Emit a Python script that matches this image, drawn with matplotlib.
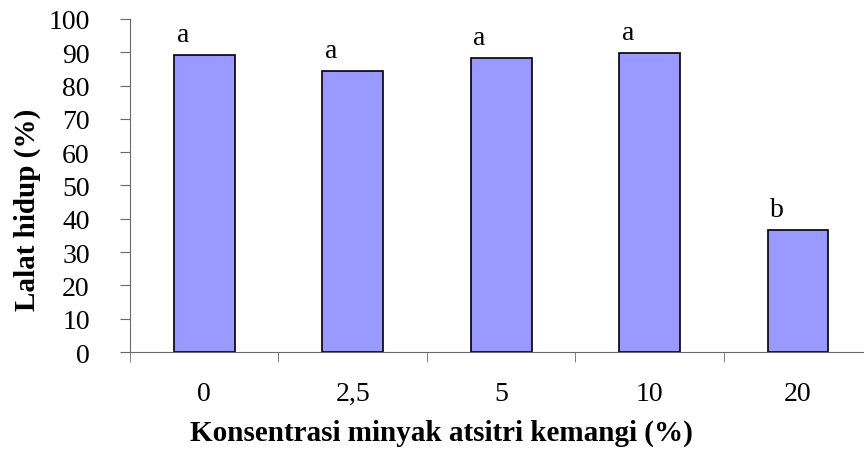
import matplotlib.pyplot as plt
import numpy as np

plt.rcParams['font.family'] = ['Liberation Serif', 'DejaVu Serif']

konsentrasi = ['0', '2,5', '5', '10', '20']
lalat_hidup = [89.3, 84.3, 88.2, 89.7, 36.6]
huruf = ['a', 'a', 'a', 'a', 'b']

fig = plt.figure(figsize=(8.64, 4.52), dpi=100)
ax = fig.add_axes([0.1505, 0.219, 0.859, 0.737])

x = np.arange(len(konsentrasi))
ax.bar(x, lalat_hidup, width=0.41, color='#9999ff', edgecolor='black', linewidth=1.2)

for xi, v, h in zip(x, lalat_hidup, huruf):
    ax.text(xi - 0.145, v + 4.2, h, fontsize=20, ha='center', va='baseline')

ax.set_xlim(-0.5, len(konsentrasi) - 0.5)
ax.set_ylim(0, 100)
ax.set_yticks(range(0, 101, 10))
ax.set_xticks(x)
ax.set_xticklabels(konsentrasi)
ax.set_xticks(np.arange(-0.5, len(konsentrasi), 1), minor=True)

ax.tick_params(axis='x', which='major', length=0, pad=21, labelsize=20)
ax.tick_params(axis='x', which='minor', length=7, direction='out', color='dimgray')
ax.tick_params(axis='y', length=7, direction='out', color='dimgray', labelsize=20, pad=22)

for s in ['top', 'right']:
    ax.spines[s].set_visible(False)
for s in ['left', 'bottom']:
    ax.spines[s].set_color('dimgray')

ax.set_ylabel('Lalat hidup (%)', fontsize=21, fontweight='bold', va='center')
ax.yaxis.set_label_coords(-0.138, 0.43)
ax.set_xlabel('Konsentrasi minyak atsitri kemangi (%)', fontsize=21, fontweight='bold', va='center')
ax.xaxis.set_label_coords(0.42, -0.24)

fig.savefig('out.png', dpi=100)
